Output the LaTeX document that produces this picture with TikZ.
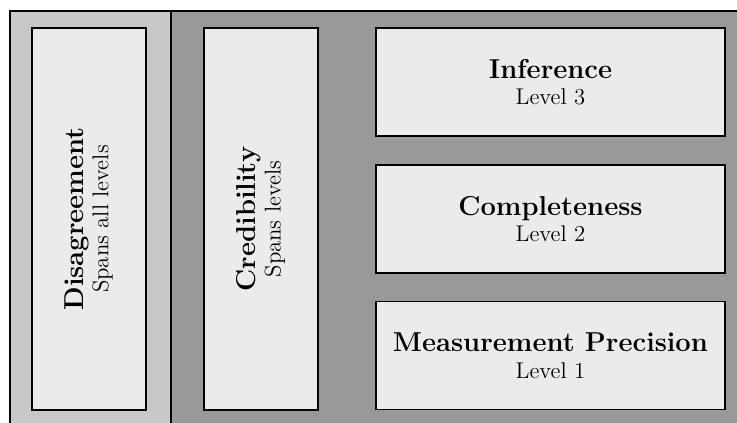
\documentclass[tikz,border=0pt]{standalone}
\definecolor{panellight}{HTML}{C8C8C8}
\definecolor{paneldark}{HTML}{999999}
\definecolor{boxfill}{HTML}{EBEBEB}
\tikzset{
  tallbox/.style={draw, thick, fill=boxfill, rotate=90, align=center,
    minimum width=7.074cm, minimum height=2.111cm},
  levelbox/.style={draw, thick, fill=boxfill, align=center,
    minimum width=6.463cm, minimum height=2.0cm},
}
\begin{document}
\begin{tikzpicture}
            \clip (0,0) rectangle (13.65,-7.83);
            % background panels
            \fill[panellight] (0.185,-0.204) rectangle (3.167,-8.2);
            \fill[paneldark] (3.167,-0.204) rectangle (13.9,-8.2);
            \draw[thick] (0.185,-8.2) -- (0.185,-0.204) -- (13.9,-0.204);
            \draw[thick] (3.167,-0.204) -- (3.167,-8.2);
            % spanning boxes
            \node[tallbox] (disagree) at (1.648,-4.056) {{\Large\bfseries Disagreement}\\[1pt]{\large Spans all levels}};
            \node[tallbox] (cred) at (4.833,-4.056) {{\Large\bfseries Credibility}\\[1pt]{\large Spans levels}};
            % levels
            \foreach \y/\name/\title/\lvl in {-1.519/infer/Inference/3,-4.056/complete/Completeness/2,-6.584/precision/Measurement Precision/1}{
                \node[levelbox] (\name) at (10.195,\y) {{\Large\bfseries \title}\\[2pt]{\large Level \lvl}};
            }
        \end{tikzpicture}
\end{document}
